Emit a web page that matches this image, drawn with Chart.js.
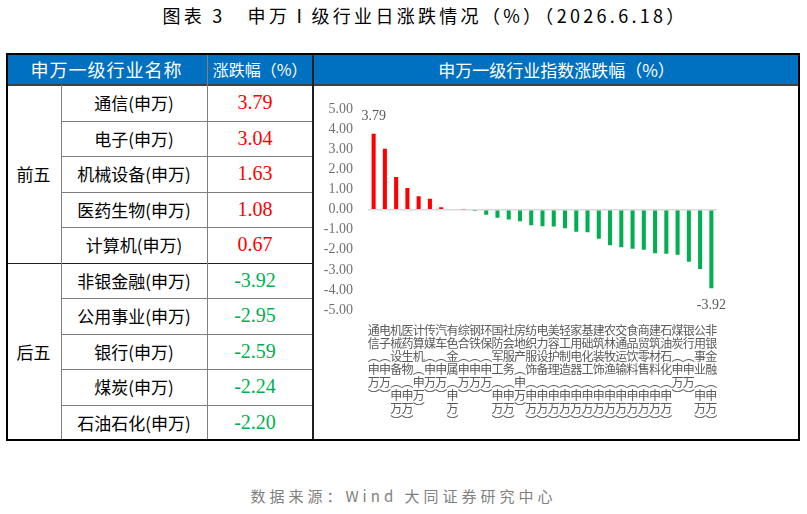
<!DOCTYPE html>
<html>
<head>
<meta charset="utf-8">
<script src="https://cdn.jsdelivr.net/npm/chart.js@4.4.1/dist/chart.umd.min.js"></script>
<style>
  html, body { margin: 0; padding: 0; background: #fff; }
  body { width: 807px; height: 514px; position: relative; overflow: hidden;
         font-family: "Noto Sans CJK SC", sans-serif; }
  .abs { position: absolute; box-sizing: border-box; }
  .cell { position: absolute; box-sizing: border-box; display: flex;
          align-items: center; justify-content: center; white-space: nowrap; }
  #title { left: 0; width: 850px; top: 2px; text-align: center; font-size: 18px;
           color: #000; letter-spacing: 3.3px; }
  #source { left: 0; width: 807px; top: 485px; text-align: center; font-size: 15px;
            color: #808080; letter-spacing: 4px; }
</style>
</head>
<body>
<div id="title" class="abs">图表 3&nbsp;&nbsp;&nbsp;申万Ⅰ级行业日涨跌情况（%）（2026.6.18）</div>
<div id="table"></div>
<canvas id="myChart" class="abs" width="485" height="354" style="left:314px;top:86px;"></canvas>
<div id="source" class="abs">数据来源：Wind 大同证券研究中心</div>

<script>
// 申万一级行业 当日涨跌幅(%)，按涨跌幅从高到低
const industries = ['通信', '电子', '机械设备', '医药生物', '计算机', '传媒', '汽车', '有色金属',
  '综合', '钢铁', '环保', '国防军工', '社会服务', '房地产', '纺织服饰', '电力设备', '美容护理',
  '轻工制造', '家用电器', '基础化工', '建筑装饰', '农林牧渔', '交通运输', '食品饮料', '商贸零售',
  '建筑材料', '石油石化', '煤炭', '银行', '公用事业', '非银金融'];
const changes = [3.79, 3.04, 1.63, 1.08, 0.67, 0.55, 0.12, 0.03,
  0.02, -0.06, -0.25, -0.40, -0.49, -0.57, -0.77, -0.83, -0.84,
  -0.93, -1.10, -1.12, -1.45, -1.77, -1.87, -1.95, -2.00,
  -2.17, -2.20, -2.24, -2.59, -2.95, -3.92];
const yTicks = [5, 4, 3, 2, 1, 0, -1, -2, -3, -4, -5];

// 表格：前五 / 后五
const topNames = industries.slice(0, 5);
const topValues = changes.slice(0, 5);
const bottomNames = industries.slice(-5).reverse();
const bottomValues = changes.slice(-5).reverse();

const RED = '#FF0000';
const GREEN = '#00B050';
const BLUE = '#0070C0';

// ---------- 表格 ----------
const table = document.getElementById('table');
function box(x, y, w, h, css, text) {
  const d = document.createElement('div');
  d.className = 'cell';
  d.style.cssText += `left:${x}px;top:${y}px;width:${w}px;height:${h}px;` + (css || '');
  if (text !== undefined) d.textContent = text;
  table.appendChild(d);
  return d;
}

const L = 6, T = 53, R = 800, B = 441;
const HEAD_B = 85;
const COLS = [6, 61, 207, 313, 800];
const rowH = (B - 1 - HEAD_B) / 10;

// header band
box(L, T, R - L, HEAD_B - T, `background:${BLUE};`);
box(COLS[0], T, COLS[2] - COLS[0], HEAD_B - T, 'color:#fff;font-size:18px;letter-spacing:1px;', '申万一级行业名称');
box(COLS[2], T, COLS[3] - COLS[2], HEAD_B - T, 'color:#fff;font-size:16px;', '涨跌幅（%）');
box(COLS[3], T, COLS[4] - COLS[3], HEAD_B - T, 'color:#fff;font-size:17px;', '申万一级行业指数涨跌幅（%）');

// body rows
const names = topNames.concat(bottomNames);
const vals = topValues.concat(bottomValues);
names.forEach((n, i) => {
  const y = HEAD_B + i * rowH;
  box(COLS[1], y, COLS[2] - COLS[1], rowH, 'color:#000;font-size:17px;', n + '(申万)');
  box(COLS[2], y, COLS[3] - COLS[2], rowH,
    `color:${vals[i] >= 0 ? RED : GREEN};font-size:20px;font-family:"Liberation Serif",serif;padding-right:10px;`,
    vals[i].toFixed(2));
  if (i !== 0 && i !== 5) box(COLS[1], y, COLS[3] - COLS[1], 1, 'background:#7f7f7f;');
});
box(COLS[0], HEAD_B, COLS[1] - COLS[0], rowH * 5, 'font-size:17px;color:#000;', '前五');
box(COLS[0], HEAD_B + rowH * 5, COLS[1] - COLS[0], rowH * 5, 'font-size:17px;color:#000;', '后五');

// grid lines
box(L, HEAD_B - 1, R - L, 1.5, 'background:#404040;');
box(L, HEAD_B + rowH * 5, COLS[3] - L, 1.5, 'background:#202020;');
box(COLS[1], HEAD_B, 1, B - HEAD_B, 'background:#7f7f7f;');
box(COLS[2], T, 1, B - T, 'background:#7f7f7f;');
box(COLS[3] - 1, T, 1.5, B - T, 'background:#202020;');
// outer border
box(L, T, R - L, B - T, 'border:2px solid #000;');

// ---------- 图表 ----------
const ctx = document.getElementById('myChart').getContext('2d');

// 竖排标签：每个字一行，括号用竖排形式
const labels = industries.map(n => (n + '︵申万︶').split(''));

const endLabels = {
  id: 'endLabels',
  afterDatasetsDraw(chart) {
    const meta = chart.getDatasetMeta(0);
    const c = chart.ctx;
    [0, changes.length - 1].forEach(i => {
      const bar = meta.data[i];
      const v = changes[i];
      c.save();
      c.fillStyle = '#595959';
      c.font = '14px "Liberation Serif", serif';
      c.textAlign = 'center';
      if (v >= 0) {
        c.textBaseline = 'alphabetic';
        c.fillText(v.toFixed(2), bar.x, bar.y - 14);
      } else {
        c.textBaseline = 'top';
        c.fillText(v.toFixed(2), bar.x, bar.y + 10);
      }
      c.restore();
    });
  }
};

new Chart(ctx, {
  type: 'bar',
  data: {
    labels: labels,
    datasets: [{
      data: changes,
      backgroundColor: changes.map(v => v >= 0 ? RED : GREEN),
      borderWidth: 0,
      barPercentage: 0.36,
      categoryPercentage: 1.0,
    }],
  },
  options: {
    responsive: false,
    animation: false,
    layout: { padding: { left: 0, right: 82, top: 21, bottom: 0 } },
    plugins: {
      legend: { display: false },
      tooltip: { enabled: false },
    },
    scales: {
      x: {
        grid: { display: false },
        border: { display: false },
        ticks: {
          autoSkip: false,
          maxRotation: 0,
          minRotation: 0,
          padding: 6,
          color: '#595959',
          font: { size: 12, family: '"Noto Sans CJK SC", sans-serif', lineHeight: 1.08 },
        },
        afterFit: s => { s.height = 130; },
      },
      y: {
        min: -5,
        max: 5,
        afterBuildTicks: s => { s.ticks = yTicks.map(v => ({ value: v })); },
        ticks: {
          callback: v => v.toFixed(2),
          padding: 15,
          color: '#707070',
          font: { size: 14, family: '"Liberation Serif", serif' },
        },
        grid: {
          drawTicks: false,
          color: c => (c.tick && c.tick.value === 0) ? '#d9d9d9' : 'rgba(0,0,0,0)',
          lineWidth: 1.5,
        },
        border: { display: false },
        afterFit: s => { s.width = 54; },
      },
    },
  },
  plugins: [endLabels],
});
</script>
</body>
</html>
